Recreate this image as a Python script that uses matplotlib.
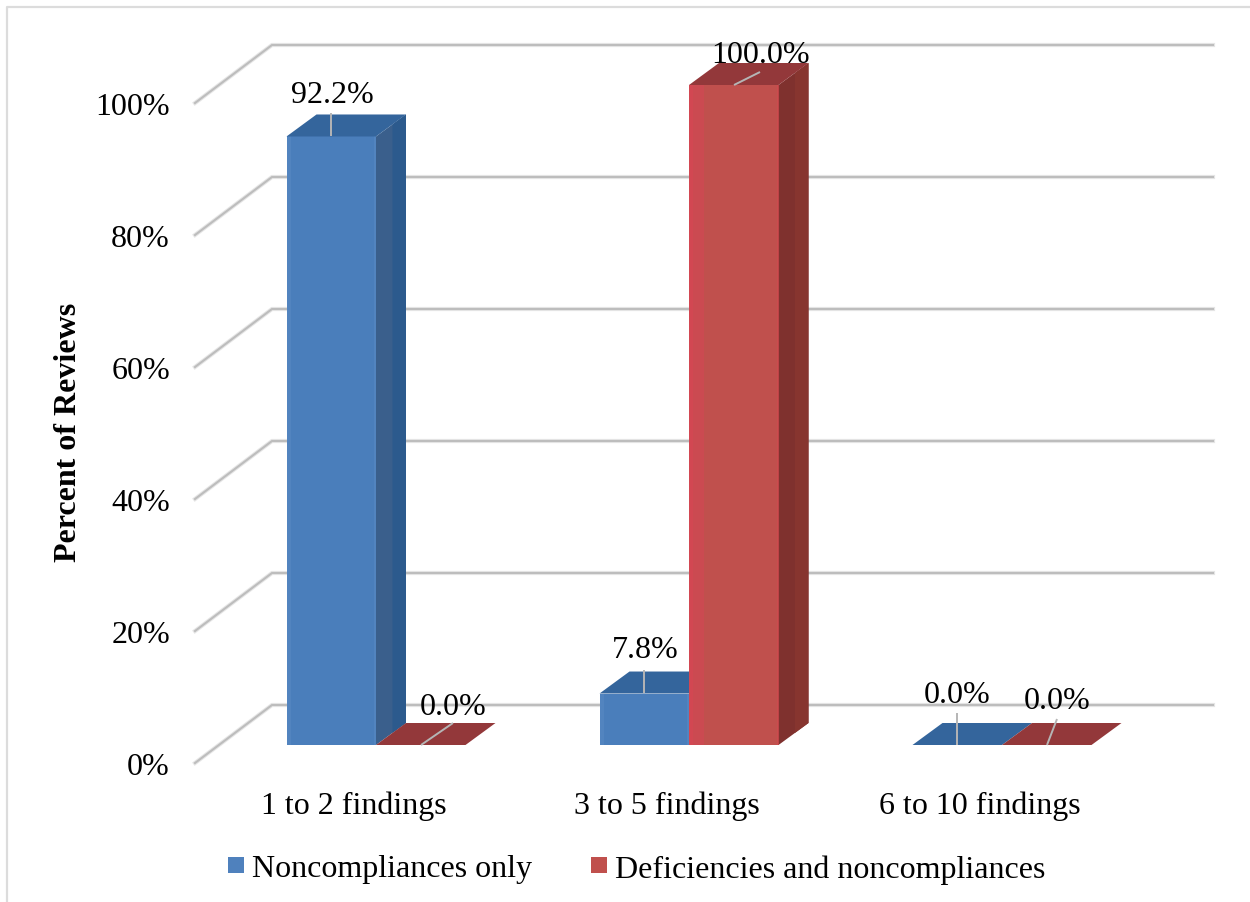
import matplotlib
matplotlib.use('Agg')
import matplotlib.pyplot as plt
from matplotlib.patches import Polygon, Rectangle

categories = ['1 to 2 findings', '3 to 5 findings', '6 to 10 findings']
series_names = ['Noncompliances only', 'Deficiencies and noncompliances']
noncompliances = [92.2, 7.8, 0.0]
deficiencies = [0.0, 100.0, 0.0]
y_ticks = [0, 20, 40, 60, 80, 100]

# front, side, top and strip shades per series
BLUE = dict(front='#4a7ebb', side='#3a5f8c', side2='#2c5a8d', top='#34659c', edge='#5b8ac4', key='#4f81bd')
RED = dict(front='#c0504d', side='#7f312e', side2='#87352f', top='#93383a', edge='#d8484f', key='#c0504d')
GRID = '#bdbdbd'
HALO = '#e6e6e6'
LEADER = '#b5b5b5'
FONT_SIZE = 23

# one category step is 313 px, one percent is 6.6 px on a 1250x903 canvas
PX_X = 313.0
PX_Y = 6.6
BAR_W = 89.5 / PX_X
BAR_DX = 30 / PX_X
BAR_DY = 22 / PX_Y
WALL_DX = 77 / PX_X
WALL_DY = 58 / PX_Y
FLOOR_Y = -18 / PX_Y


def x_of(px):
    return (px - 376) / PX_X


def y_of(px):
    return (746 - px) / PX_Y


def draw_bar(ax, left, value, c, z):
    right = left + BAR_W
    top_face = [(left, value), (right, value), (right + BAR_DX, value + BAR_DY), (left + BAR_DX, value + BAR_DY)]
    if value > 0:
        ax.add_patch(Rectangle((left, 0), BAR_W, value, fc=c['front'], ec='none', zorder=z))
        side = [(right, 0), (right + BAR_DX, BAR_DY), (right + BAR_DX, value + BAR_DY), (right, value)]
        ax.add_patch(Polygon(side, fc=c['side'], ec='none', zorder=z))
        # outer half of the side is a little more saturated
        mid = right + BAR_DX * 0.55
        outer = [(mid, BAR_DY * 0.55), (right + BAR_DX, BAR_DY), (right + BAR_DX, value + BAR_DY), (mid, value + BAR_DY * 0.55)]
        ax.add_patch(Polygon(outer, fc=c['side2'], ec='none', zorder=z))
        # lighter bevel along the front face
        ax.add_patch(Rectangle((left, 0), BAR_W * 0.05, value, fc=c['edge'], ec='none', alpha=0.5, zorder=z))
        ax.add_patch(Rectangle((right - BAR_W * 0.02, 0), BAR_W * 0.02, value, fc=c['edge'], ec='none', alpha=0.5, zorder=z))
    ax.add_patch(Polygon(top_face, fc=c['top'], ec='none', zorder=z))


def leader(ax, x0, y0, x1, y1):
    ax.plot([x_of(x0), x_of(x1)], [y_of(y0), y_of(y1)], color=LEADER, lw=1.4, zorder=8, solid_capstyle='butt')


fig = plt.figure(figsize=(12.5, 9.03), dpi=100)
ax = fig.add_axes([0, 0, 1, 1])
ax.set_xlim(x_of(0), x_of(1250))
ax.set_ylim(y_of(903), y_of(0))
ax.axis('off')
plt.rcParams['font.family'] = ['Liberation Serif', 'DejaVu Serif']

# chart border, only the left and top edges are visible
ax.plot([x_of(6.5), x_of(6.5), x_of(1250)], [y_of(903), y_of(8), y_of(8)], color='#dcdcdc', lw=1.6, zorder=1)

# floor and back wall gridlines
for t in y_ticks:
    xs = [x_of(195), x_of(195) + WALL_DX, x_of(1213)]
    ys = [FLOOR_Y + t, FLOOR_Y + t + WALL_DY, FLOOR_Y + t + WALL_DY]
    ax.plot(xs, ys, color=HALO, lw=3, zorder=2, solid_joinstyle='miter')
    ax.plot(xs, ys, color=GRID, lw=1.5, zorder=2, solid_joinstyle='miter')
    ax.text(x_of(170), FLOOR_Y + t - 3.5 / PX_Y, f'{t}%', ha='right', va='center', fontsize=FONT_SIZE, color='black')

# bars, blue first so the red bar overlaps it
for i, (a, b) in enumerate(zip(noncompliances, deficiencies)):
    draw_bar(ax, i - BAR_W, a, BLUE, 3 + i)
    draw_bar(ax, i, b, RED, 3 + i)
    ax.text(i - 22 / PX_X, y_of(806), categories[i], ha='center', va='center', fontsize=FONT_SIZE, color='black')

# translucent strip where the blue side shows through the red front
ax.add_patch(Rectangle((1, 0), BAR_DX * 0.5, deficiencies[1], fc='#e0405a', ec='none', alpha=0.35, zorder=5))

# data labels with their leader lines
leader(ax, 331, 114, 331, 137)
leader(ax, 421, 746, 453, 724)
leader(ax, 644, 671, 644, 694)
leader(ax, 734, 86, 760, 73)
leader(ax, 957, 714, 957, 746)
leader(ax, 1047, 746, 1057, 720)

label_pos = [(332, 96), (645, 651), (957, 696)]
for (px, py), v in zip(label_pos, noncompliances):
    ax.text(x_of(px), y_of(py), f'{v:.1f}%', ha='center', va='center', fontsize=FONT_SIZE, color='black', zorder=9)
label_pos = [(453, 708), (761, 56), (1057, 702)]
for (px, py), v in zip(label_pos, deficiencies):
    ax.text(x_of(px), y_of(py), f'{v:.1f}%', ha='center', va='center', fontsize=FONT_SIZE, color='black', zorder=9)

ax.text(x_of(69), y_of(432), 'Percent of Reviews', rotation=90, ha='center', va='center',
        fontsize=23, fontweight='bold', color='black')

# legend
for px, c, name in zip([228, 591], [BLUE, RED], series_names):
    ax.add_patch(Rectangle((x_of(px), y_of(874)), 16 / PX_X, 16 / PX_Y, fc=c['key'], ec='none', zorder=3))
    ax.text(x_of(px + 24), y_of(870), name, ha='left', va='center', fontsize=FONT_SIZE, color='black')

fig.savefig('out.png', dpi=100)
